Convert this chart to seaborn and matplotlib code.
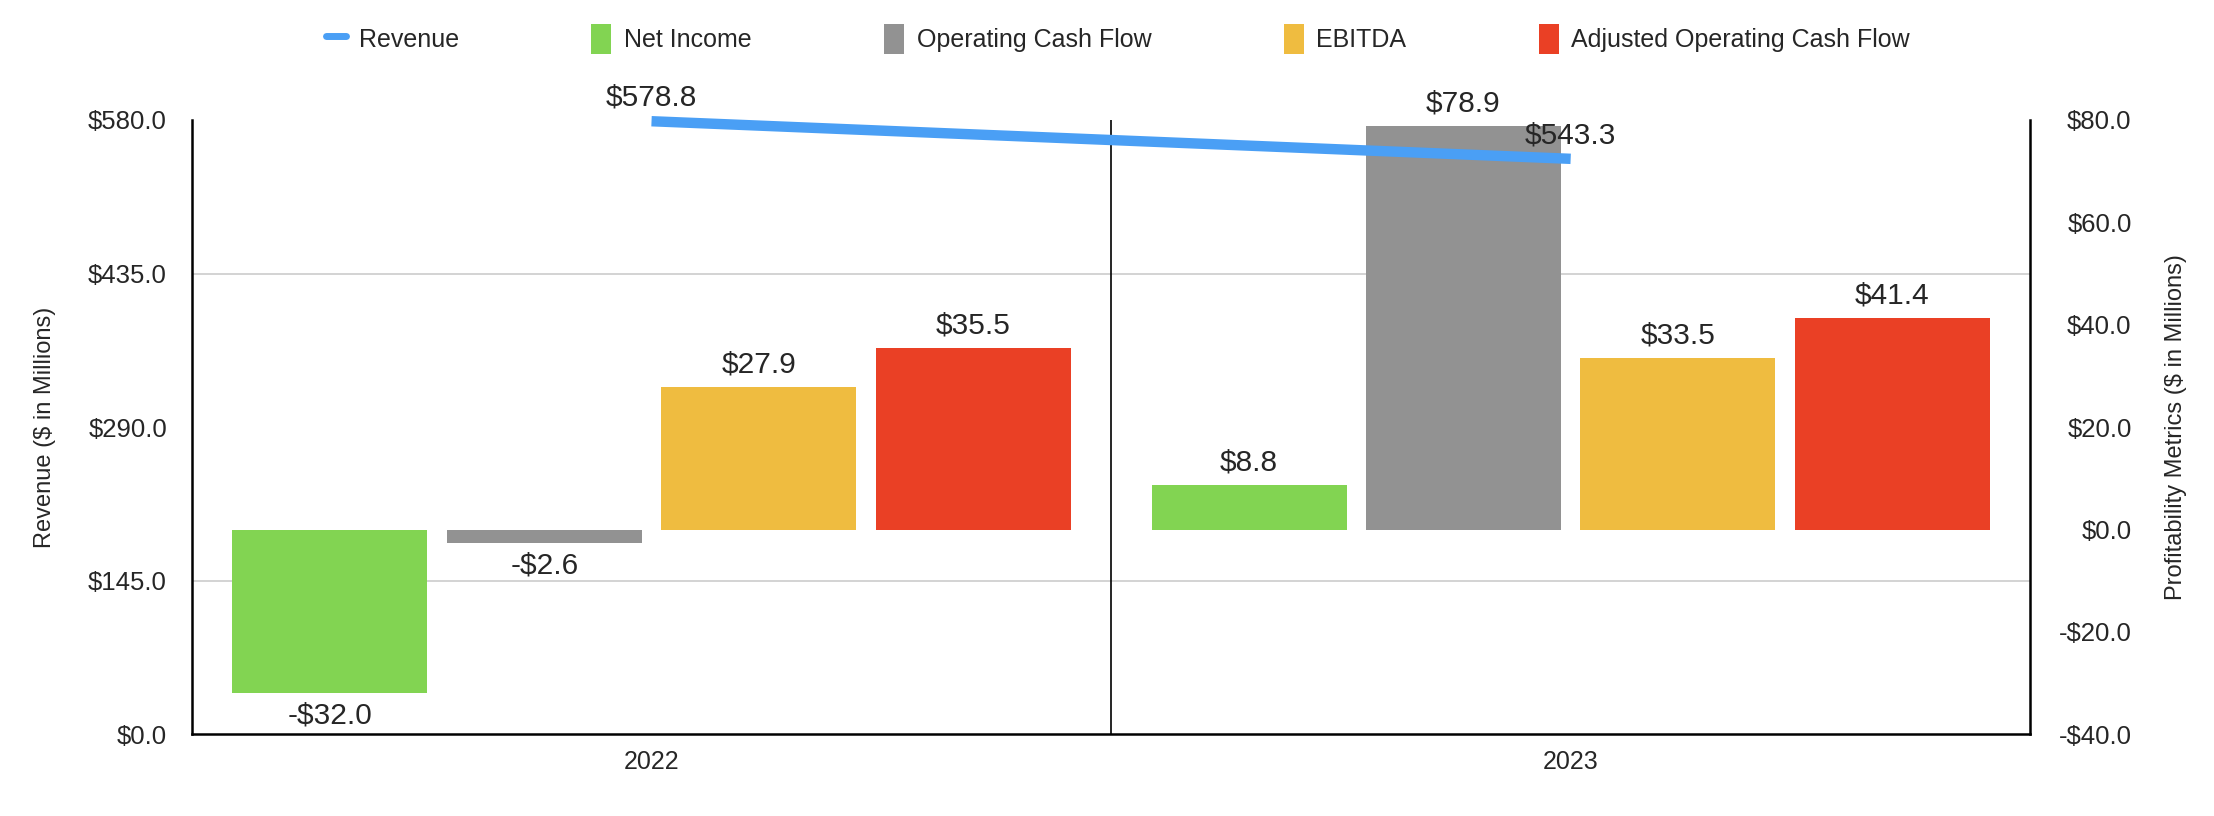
import numpy as np
import pandas as pd
import matplotlib
matplotlib.use("Agg")
import matplotlib.pyplot as plt
from matplotlib.lines import Line2D
from matplotlib.patches import Patch
import seaborn as sns

# Chart data
years = ["2022", "2023"]
revenue = [578.8, 543.3]
metrics = ["Net Income", "Operating Cash Flow", "EBITDA", "Adjusted Operating Cash Flow"]
net_income = [-32.0, 8.8]
operating_cash_flow = [-2.6, 78.9]
ebitda = [27.9, 33.5]
adjusted_ocf = [35.5, 41.4]

rev_ticks = [0, 145, 290, 435, 580]
prof_ticks = [-40, -20, 0, 20, 40, 60, 80]

colors = {
    "Revenue": "#4A9FF5",
    "Net Income": "#82D452",
    "Operating Cash Flow": "#929292",
    "EBITDA": "#EFBC40",
    "Adjusted Operating Cash Flow": "#EA4025",
}

df = pd.DataFrame({
    "Year": years * 4,
    "Metric": np.repeat(metrics, len(years)),
    "Value": net_income + operating_cash_flow + ebitda + adjusted_ocf,
})

sns.set_theme(style="white")
plt.rcParams["font.family"] = ["Liberation Sans", "DejaVu Sans"]


def money(v):
    return f"-${abs(v):.1f}" if v < 0 else f"${v:.1f}"


fig, ax = plt.subplots(figsize=(22.14, 8.16), dpi=100)
fig.subplots_adjust(left=0.0867, right=0.917, top=0.853, bottom=0.10)
ax2 = ax.twinx()

# Bars on the profitability axis
sns.barplot(data=df, x="Year", y="Value", hue="Metric", hue_order=metrics,
            palette=[colors[m] for m in metrics], width=0.933, gap=0.09,
            saturation=1, linewidth=0, ax=ax2, legend=False)
for cont in ax2.containers:
    ax2.bar_label(cont, fmt=money, padding=6, fontsize=21.5)

ax2.set_ylim(prof_ticks[0], prof_ticks[-1])
ax2.set_yticks(prof_ticks, [money(v) for v in prof_ticks])
# gridlines follow the revenue ticks, mapped onto the profitability scale
lo, hi = prof_ticks[0], prof_ticks[-1]
grid_pos = [lo + (t - rev_ticks[0]) / (rev_ticks[-1] - rev_ticks[0]) * (hi - lo) for t in rev_ticks[1:]]
ax2.set_yticks(grid_pos, minor=True)
ax2.grid(False)
ax2.grid(which="minor", axis="y", color="#c8c8c8", linewidth=1.1)
ax2.set_axisbelow(True)
ax2.tick_params(axis="y", which="both", length=0, pad=73, labelsize=18.5)
for lab in ax2.get_yticklabels():
    lab.set_horizontalalignment("right")
ax2.set_ylabel("Profitability Metrics ($ in Millions)", fontsize=17)
ax2.yaxis.set_label_coords(1.0735, 0.5)
ax2.axvline(0.5, color="black", linewidth=1.2)

# Revenue line on top
ax.set_zorder(ax2.get_zorder() + 1)
ax.patch.set_visible(False)
pos = np.arange(len(years))
sns.lineplot(x=pos, y=revenue, ax=ax, color=colors["Revenue"], linewidth=7.5,
             solid_capstyle="butt", legend=False)
for ln in ax.lines:
    ln.set_clip_on(False)
for x, v in zip(pos, revenue):
    ax.annotate(money(v), (x, v), xytext=(0, 7), textcoords="offset points",
                ha="center", va="bottom", fontsize=21.5)

ax.set_ylim(rev_ticks[0], rev_ticks[-1])
ax.set_yticks(rev_ticks, [money(v) for v in rev_ticks])
ax.set_xlim(-0.5, len(years) - 0.5)
ax.set_xticks(pos, years)
ax.grid(False)
ax.tick_params(axis="y", length=0, pad=18, labelsize=18.5)
ax.tick_params(axis="x", length=0, pad=11, labelsize=18)
ax.set_ylabel("Revenue ($ in Millions)", fontsize=17)
ax.yaxis.set_label_coords(-0.0737, 0.5)
ax.set_xlabel("")

for a in (ax, ax2):
    for s in a.spines.values():
        s.set_visible(False)
for s in ("left", "bottom"):
    ax.spines[s].set_visible(True)
    ax.spines[s].set_color("black")
    ax.spines[s].set_linewidth(1.8)
ax2.spines["right"].set_visible(True)
ax2.spines["right"].set_color("black")
ax2.spines["right"].set_linewidth(1.8)

handles = [Line2D([0], [0], color=colors["Revenue"], linewidth=5)]
handles += [Patch(facecolor=colors[m], edgecolor="none") for m in metrics]
fig.legend(handles, ["Revenue"] + metrics, loc="center", bbox_to_anchor=(0.505, 0.952),
           ncol=5, frameon=False, fontsize=18, handlelength=0.8, handleheight=1.5,
           handletextpad=0.5, columnspacing=5.3)

fig.savefig("out.png", dpi=100)
